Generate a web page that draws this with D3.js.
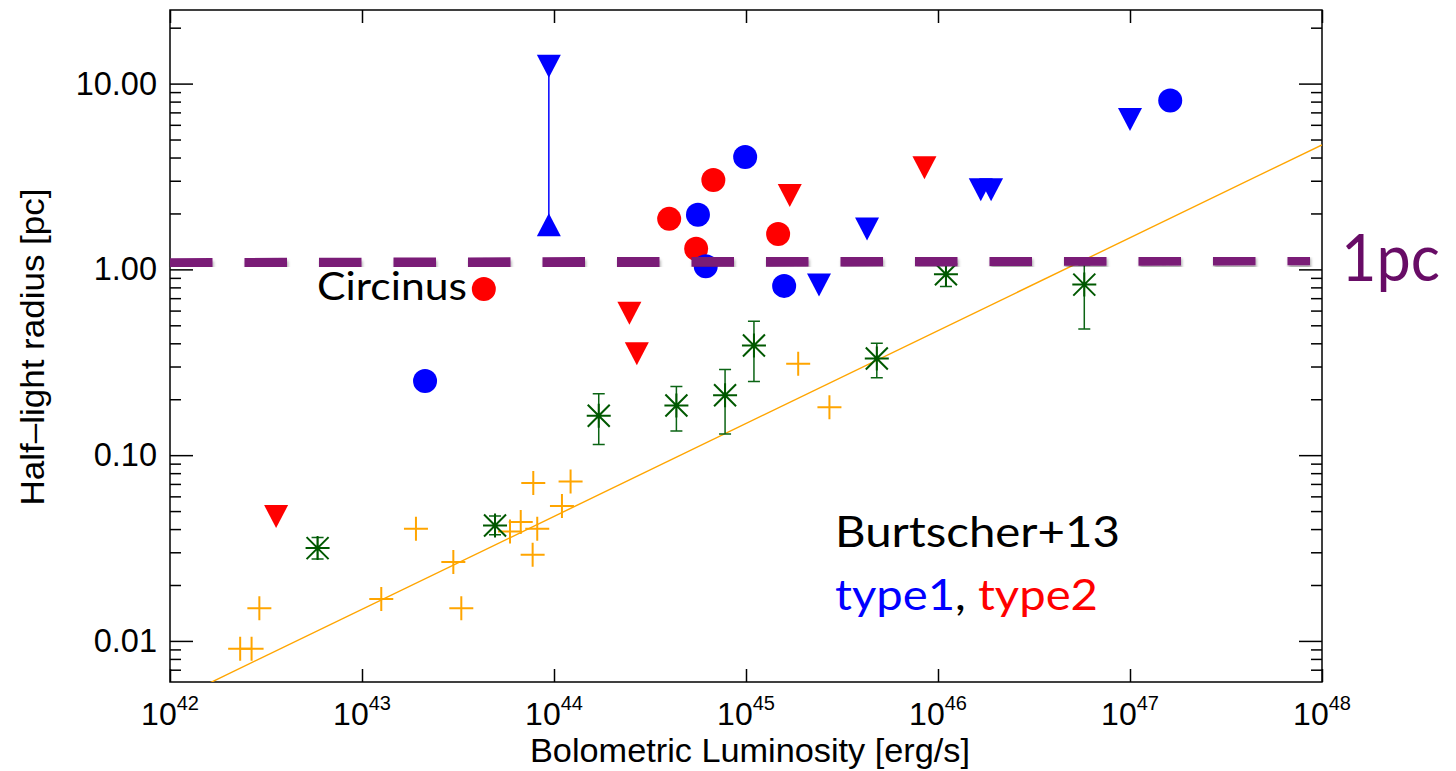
<!DOCTYPE html>
<html>
<head>
<meta charset="utf-8">
<script src="https://cdn.jsdelivr.net/npm/d3@7"></script>
<style>
body { margin: 0; background: #fff; }
svg { display: block; }
</style>
</head>
<body>
<div id="chart"></div>
<script>
// type1 (blue) resolved sources
const type1L = [2.13e43, 5.62e44, 9.9e44, 6.17e44, 1.58e45, 1.62e47];
const type1R = [0.251, 1.97, 4.03, 1.04, 0.815, 8.1];
// type1 upper limits (down triangles)
const type1LimL = [9.4e43, 2.4e45, 4.27e45, 1.67e46, 1.89e46, 1.0e47];
const type1LimR = [12.4, 0.825, 1.65, 2.68, 2.68, 6.4];
// lower limit linked to the first upper limit
const type1LowL = [9.4e43];
const type1LowR = [1.74];

// type2 (red) resolved sources, first one is Circinus
const type2L = [4.31e43, 3.98e44, 5.5e44, 6.76e44, 1.47e45];
const type2R = [0.785, 1.87, 1.29, 3.03, 1.55];
// type2 upper limits
const type2LimL = [3.57e42, 2.47e44, 2.7e44, 1.69e45, 8.5e45];
const type2LimR = [0.0467, 0.581, 0.351, 2.5, 3.52];

// green asterisks with error bars
const greenL = [5.87e42, 4.93e43, 1.71e44, 4.34e44, 7.78e44, 1.1e45, 4.8e45, 1.1e46, 5.78e46];
const greenR = [0.0316, 0.0418, 0.163, 0.185, 0.21, 0.389, 0.331, 0.942, 0.828];
const greenLo = [0.0276, 0.0373, 0.114, 0.135, 0.13, 0.249, 0.261, 0.81, 0.477];
const greenHi = [0.036, 0.047, 0.214, 0.234, 0.289, 0.526, 0.4, 1.1, 1.06];

// orange crosses
const orangeL = [2.32e42, 2.66e42, 2.92e42, 1.26e43, 1.91e43, 2.99e43, 3.29e43, 5.9e43,
  6.71e43, 8.18e43, 7.74e43, 7.8e43, 1.1e44, 1.22e44, 1.87e45, 2.72e45];
const orangeR = [0.00907, 0.00907, 0.015, 0.0168, 0.0401, 0.0266, 0.015, 0.0388,
  0.0436, 0.0401, 0.0291, 0.0707, 0.0533, 0.0721, 0.31, 0.181];

// fit line endpoints (R ~ L^0.5)
const fitL = [1e42, 1e48];
const fitR = [0.00468, 4.68];

// 1pc reference line
const pcL = [1e42, 8.66e47];
const pcR = [1.08, 1.12];

// ticks
const xTicks = [1e42, 1e43, 1e44, 1e45, 1e46, 1e47, 1e48];
const xTickExp = ['42', '43', '44', '45', '46', '47', '48'];
const yTicks = [0.01, 0.1, 1, 10];
const yTickLabels = ['0.01', '0.10', '1.00', '10.00'];

const width = 1456, height = 771;
const margin = {top: 10, right: 134, bottom: 89, left: 170};
const sansFont = '"Liberation Sans", Arial, Helvetica, sans-serif';
const calFont = 'Lato, "Open Sans", sans-serif';

const svg = d3.select('#chart').append('svg')
  .attr('width', width)
  .attr('height', height);

const x = d3.scaleLog().domain([1e42, 1e48]).range([margin.left, width - margin.right]);
const y = d3.scaleLog().domain([0.00601, 24.9]).range([height - margin.bottom, margin.top]);

// minor y ticks
const yMinor = [];
[-3, -2, -1, 0, 1].forEach(e => {
  for (let k = 2; k <= 9; k++) {
    const v = k * Math.pow(10, e);
    if (v > 0.00601 && v < 24.9) yMinor.push(v);
  }
});

const defs = svg.append('defs');
defs.append('clipPath').attr('id', 'plot')
  .append('rect')
  .attr('x', margin.left).attr('y', margin.top)
  .attr('width', width - margin.left - margin.right)
  .attr('height', height - margin.top - margin.bottom);
defs.append('filter').attr('id', 'shadow')
  .attr('x', '-5%').attr('y', '-100%').attr('width', '110%').attr('height', '300%')
  .append('feDropShadow')
  .attr('dx', 1).attr('dy', 3).attr('stdDeviation', 1.8)
  .attr('flood-color', '#000').attr('flood-opacity', 0.35);

// axes
function styleAxis(g) {
  g.select('.domain').remove();
  g.selectAll('line').attr('stroke', '#000').attr('stroke-width', 1.5);
  g.attr('font-family', sansFont);
}

svg.append('g')
  .attr('transform', `translate(${margin.left},0)`)
  .call(d3.axisLeft(y).tickValues(yMinor).tickSize(-11).tickFormat(''))
  .call(styleAxis);
svg.append('g')
  .attr('transform', `translate(${margin.left},0)`)
  .call(d3.axisLeft(y).tickValues(yTicks).tickSize(-23).tickPadding(13)
    .tickFormat((d, i) => yTickLabels[i]))
  .call(styleAxis)
  .selectAll('text')
  .attr('font-size', 32.5)
  .attr('fill', '#000');
svg.append('g')
  .attr('transform', `translate(${width - margin.right},0)`)
  .call(d3.axisRight(y).tickValues(yMinor).tickSize(-11).tickFormat(''))
  .call(styleAxis);
svg.append('g')
  .attr('transform', `translate(${width - margin.right},0)`)
  .call(d3.axisRight(y).tickValues(yTicks).tickSize(-23).tickFormat(''))
  .call(styleAxis);
svg.append('g')
  .attr('transform', `translate(0,${margin.top})`)
  .call(d3.axisTop(x).tickValues(xTicks).tickSize(-13).tickFormat(''))
  .call(styleAxis);

svg.append('g')
  .attr('transform', `translate(0,${height - margin.bottom})`)
  .call(d3.axisBottom(x).tickValues(xTicks).tickSize(-13).tickFormat(''))
  .call(styleAxis);

// x tick labels with superscripts
const xLab = svg.append('g').attr('font-family', sansFont);
xTicks.forEach((v, i) => {
  const t = xLab.append('text')
    .attr('x', x(v))
    .attr('y', 725)
    .attr('text-anchor', 'middle')
    .attr('font-size', 32);
  t.append('tspan').text('10');
  t.append('tspan').attr('dy', -15).attr('font-size', 20).text(xTickExp[i]);
});

// frame
svg.append('rect')
  .attr('x', margin.left).attr('y', margin.top)
  .attr('width', width - margin.left - margin.right)
  .attr('height', height - margin.top - margin.bottom)
  .attr('fill', 'none')
  .attr('stroke', '#000')
  .attr('stroke-width', 1.5);

// axis titles
svg.append('text')
  .attr('transform', 'translate(44,347) rotate(-90)')
  .attr('text-anchor', 'middle')
  .attr('font-family', sansFont)
  .attr('font-size', 33.5)
  .attr('textLength', 317)
  .attr('lengthAdjust', 'spacingAndGlyphs')
  .text('Half\u2013light radius [pc]');
svg.append('text')
  .attr('x', 750).attr('y', 762)
  .attr('text-anchor', 'middle')
  .attr('font-family', sansFont)
  .attr('font-size', 33.5)
  .attr('textLength', 440)
  .attr('lengthAdjust', 'spacingAndGlyphs')
  .text('Bolometric Luminosity [erg/s]');

const plot = svg.append('g').attr('clip-path', 'url(#plot)');

// fit line
plot.append('path')
  .datum(fitL.map((l, i) => [l, fitR[i]]))
  .attr('fill', 'none')
  .attr('stroke', '#FFA500')
  .attr('stroke-width', 1.4)
  .attr('d', d3.line().x(d => x(d[0])).y(d => y(d[1])));

// orange crosses
plot.selectAll('path.cross')
  .data(orangeL.map((l, i) => [l, orangeR[i]]))
  .join('path')
  .attr('class', 'cross')
  .attr('transform', d => `translate(${x(d[0])},${y(d[1])})`)
  .attr('d', 'M-12,0H12M0,-12V12')
  .attr('stroke', '#FFA500')
  .attr('stroke-width', 2)
  .attr('fill', 'none');

// green error bars + asterisks
const green = greenL.map((l, i) => ({l: l, r: greenR[i], lo: greenLo[i], hi: greenHi[i]}));
plot.selectAll('path.ebar')
  .data(green)
  .join('path')
  .attr('class', 'ebar')
  .attr('d', d => {
    const cx = x(d.l), y0 = y(d.lo), y1 = y(d.hi);
    return `M${cx},${y0}V${y1}M${cx - 6},${y0}H${cx + 6}M${cx - 6},${y1}H${cx + 6}`;
  })
  .attr('stroke', '#0b6414')
  .attr('stroke-width', 1.5)
  .attr('fill', 'none');
plot.selectAll('path.star')
  .data(green)
  .join('path')
  .attr('class', 'star')
  .attr('transform', d => `translate(${x(d.l)},${y(d.r)})`)
  .attr('d', 'M-12,0H12M0,-12V12M-11,-11L11,11M-11,11L11,-11')
  .attr('stroke', '#005800')
  .attr('stroke-width', 2)
  .attr('fill', 'none');

// linked limits
plot.append('line')
  .attr('x1', x(type1LimL[0])).attr('x2', x(type1LowL[0]))
  .attr('y1', y(type1LimR[0])).attr('y2', y(type1LowR[0]))
  .attr('stroke', '#0000FF')
  .attr('stroke-width', 1.5);

const down = 'M-12,-11.5L12,-11.5L0,11.5Z';
const up = 'M-12,11.5L12,11.5L0,-11.5Z';

function tri(data, shape, color) {
  plot.append('g').selectAll('path')
    .data(data)
    .join('path')
    .attr('transform', d => `translate(${x(d[0])},${y(d[1])})`)
    .attr('d', shape)
    .attr('fill', color);
}
function dots(data, color) {
  plot.append('g').selectAll('circle')
    .data(data)
    .join('circle')
    .attr('cx', d => x(d[0]))
    .attr('cy', d => y(d[1]))
    .attr('r', 12)
    .attr('fill', color);
}

tri(type1LimL.map((l, i) => [l, type1LimR[i]]), down, '#0000FF');
tri(type1LowL.map((l, i) => [l, type1LowR[i]]), up, '#0000FF');
tri(type2LimL.map((l, i) => [l, type2LimR[i]]), down, '#FF0000');
dots(type2L.map((l, i) => [l, type2R[i]]), '#FF0000');
dots(type1L.map((l, i) => [l, type1R[i]]), '#0000FF');

// 1pc dashed line
svg.append('path')
  .datum(pcL.map((l, i) => [l, pcR[i]]))
  .attr('fill', 'none')
  .attr('stroke', '#7a1a77')
  .attr('stroke-width', 10)
  .attr('stroke-dasharray', '42.5 32')
  .attr('filter', 'url(#shadow)')
  .attr('d', d3.line().x(d => x(d[0])).y(d => y(d[1])));

// annotations
function note(tx, ty, size, len, str, color) {
  return svg.append('text')
    .attr('x', tx).attr('y', ty)
    .attr('font-family', calFont)
    .attr('font-size', size)
    .attr('textLength', len)
    .attr('lengthAdjust', 'spacingAndGlyphs')
    .attr('fill', color)
    .text(str);
}
note(1341, 281, 66, 99, '1pc', '#680c66');
note(317, 300, 38, 150, 'Circinus', '#000');
note(835, 547, 42, 285, 'Burtscher+13', '#000');

const typeText = svg.append('text')
  .attr('x', 835).attr('y', 610)
  .attr('font-family', calFont)
  .attr('font-size', 42)
  .attr('textLength', 263)
  .attr('lengthAdjust', 'spacingAndGlyphs');
typeText.append('tspan').attr('fill', '#0000FF').text('type1');
typeText.append('tspan').attr('fill', '#000').text(', ');
typeText.append('tspan').attr('fill', '#FF0000').text('type2');
</script>
</body>
</html>
